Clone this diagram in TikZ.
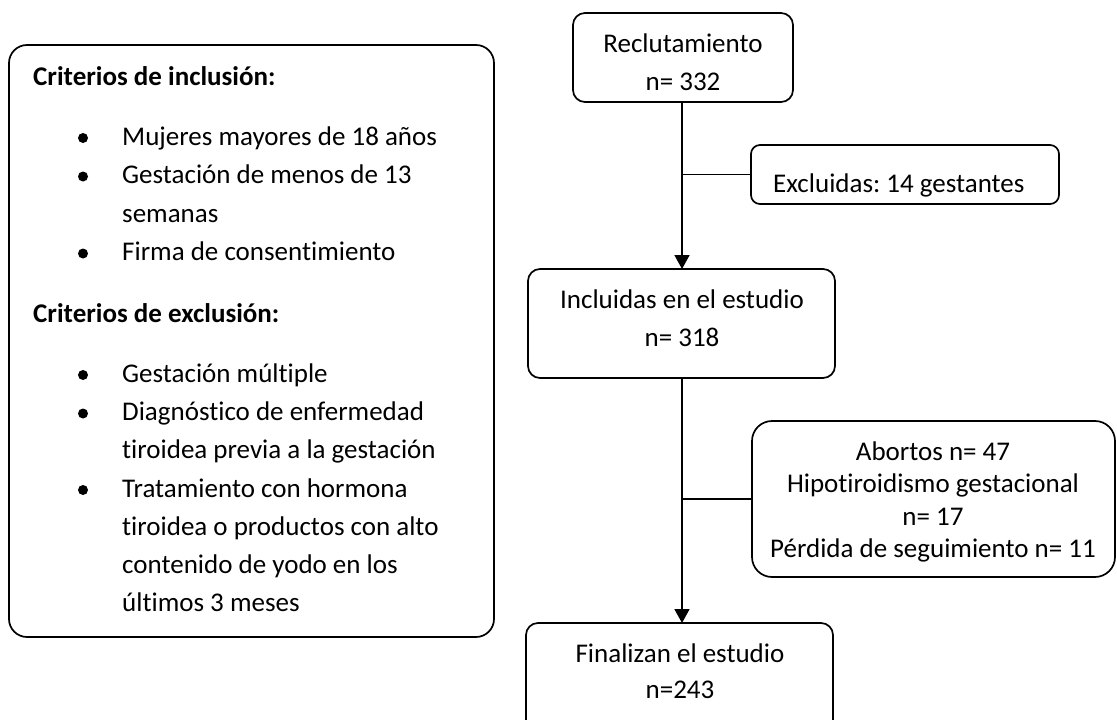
\documentclass[tikz,border=0pt]{standalone}
\usepackage{fontspec}
\setmainfont{Carlito}[Ligatures=CommonOff]
\frenchspacing
\usetikzlibrary{arrows.meta}
\begin{document}
\begin{tikzpicture}[x=1pt,y=-1pt,
  boxn/.style={draw, line width=1.7pt, inner sep=0pt, outer sep=0pt, rounded corners=#1},
  boxn/.default=12pt,
  txt/.style={font=\fontsize{27pt}{32pt}\selectfont, inner sep=0pt, anchor=base},
  txtl/.style={txt, anchor=base west},
  hd/.style={txtl, font=\fontsize{27pt}{32pt}\selectfont\bfseries},
  bul/.style={circle, fill, inner sep=0pt, minimum size=10pt},
  conn/.style={line width=1.7pt},
  arr/.style={conn, -{Triangle[width=15pt,length=14pt]}}]
\useasboundingbox (0,0) rectangle (1117,720);
\clip (0,0) rectangle (1117,720);

% left criteria box
\node[boxn=18pt, minimum width=485pt, minimum height=592pt] (crit) at (251.5,341) {};
\node[hd] (h1) at (33,85) {Criterios de inclusión:};
\node[bul] (b1) at (83,138) {};
\node[txtl] (i1) at (122,145) {Mujeres mayores de 18 años};
\node[bul] (b2) at (83,176.5) {};
\node[txtl] (i2) at (122,183.5) {Gestación de menos de 13};
\node[txtl] (i2b) at (122,222) {semanas};
\node[bul] (b3) at (83,253.5) {};
\node[txtl] (i3) at (122,260.5) {Firma de consentimiento};
\node[hd] (h2) at (33,322) {Criterios de exclusión:};
\node[bul] (b4) at (83,375) {};
\node[txtl] (e1) at (122,382) {Gestación múltiple};
\node[bul] (b5) at (83,413.5) {};
\node[txtl] (e2) at (122,420.5) {Diagnóstico de enfermedad};
\node[txtl] (e2b) at (122,458.5) {tiroidea previa a la gestación};
\node[bul] (b6) at (83,490) {};
\node[txtl] (e3) at (122,497) {Tratamiento con hormona};
\node[txtl] (e3b) at (122,535) {tiroidea o productos con alto};
\node[txtl] (e3c) at (122,573) {contenido de yodo en los};
\node[txtl] (e3d) at (122,611) {últimos 3 meses};

% flow boxes
\node[boxn, minimum width=220pt, minimum height=89pt] (rec) at (683,57.5) {};
\node[txt] (rect1) at (683,52) {Reclutamiento};
\node[txt] (rect2) at (683,90) {n= 332};

\node[boxn=9pt, minimum width=308pt, minimum height=59pt] (exc) at (905,174.5) {};
\node[txtl] (exct) at (773,192) {Excluidas: 14 gestantes};

\node[boxn, minimum width=307pt, minimum height=109pt] (inc) at (681.5,323.5) {};
\node[txt] (inct1) at (682,308) {Incluidas en el estudio};
\node[txt] (inct2) at (682,346) {n= 318};

\node[boxn=20pt, minimum width=363pt, minimum height=156pt] (abo) at (933.5,499) {};
\node[txt] (abot1) at (933,460) {Abortos n= 47};
\node[txt] (abot2) at (933,492.5) {Hipotiroidismo gestacional};
\node[txt] (abot3) at (933,525) {n= 17};
\node[txt] (abot4) at (933,557.5) {Pérdida de seguimiento n= 11};

\node[boxn, minimum width=307pt, minimum height=120pt] (fin) at (679.5,683) {};
\node[txt] (fint1) at (680,662) {Finalizan el estudio};
\node[txt] (fint2) at (680,698) {n=243};

% connectors
\coordinate (v1) at (682,0);
\draw[arr] (v1 |- rec.south) -- (v1 |- inc.north);
\draw[conn] (v1 |- exc.west) -- (exc.west);
\draw[arr] (v1 |- inc.south) -- (v1 |- fin.north);
\draw[conn] (v1 |- abo.west) -- (abo.west);
\end{tikzpicture}
\end{document}
